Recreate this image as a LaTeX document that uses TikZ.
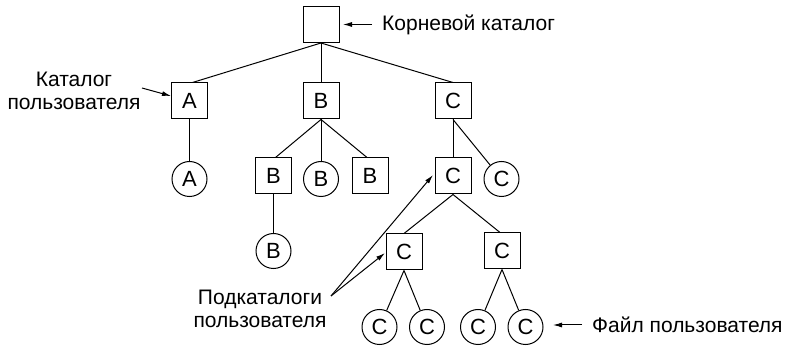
\documentclass[tikz,border=0pt]{standalone}
\usepackage{fontspec}
\setmainfont{Liberation Sans}
\usetikzlibrary{arrows.meta}
\begin{document}
\begin{tikzpicture}[x=1pt,y=-1pt,
  every node/.style={font=\fontsize{21}{23}\selectfont},
  dir/.style={draw,line width=1pt,minimum size=36pt,inner sep=0pt,font=\fontsize{22}{24}\selectfont},
  fil/.style={draw,line width=1pt,circle,minimum size=35pt,inner sep=0pt,font=\fontsize{22}{24}\selectfont},
  edge/.style={line width=1pt},
  arr/.style={line width=1pt,-{Latex[length=9pt,width=5pt]}},
  lbl/.style={inner sep=0pt,align=center}]
\useasboundingbox (0,0) rectangle (785,347);
% directories and files
\node[dir] (root) at (321,24.5) {};
\node[dir] (A) at (189.5,101) {A};
\node[dir] (B) at (321,101) {B};
\node[dir] (C) at (453,101) {C};
\node[fil] (cA) at (189.5,179) {A};
\node[dir] (B2) at (273.5,176) {B};
\node[fil] (cB) at (321,179) {B};
\node[dir] (B3) at (370,176) {B};
\node[dir] (C2) at (453,176) {C};
\node[fil] (cC) at (501.5,179) {C};
\node[fil] (cB2) at (273.5,251) {B};
\node[dir] (C3) at (404,252) {C};
\node[dir] (C4) at (502,251) {C};
\node[fil] (c1) at (379.5,327) {C};
\node[fil] (c2) at (427,327) {C};
\node[fil] (c3) at (478,327) {C};
\node[fil] (c4) at (525.5,327) {C};
% tree edges
\draw[edge] (root.south) -- ([xshift=3pt]A.north);
\draw[edge] (root.south) -- (B.north);
\draw[edge] (root.south) -- (C.north);
\draw[edge] (A.south) -- (cA);
\draw[edge] (B.south) -- ([xshift=2pt]B2.north);
\draw[edge] (B.south) -- (cB);
\draw[edge] (B.south) -- ([xshift=-3pt]B3.north);
\draw[edge] (C.south) -- (C2.north);
\draw[edge] (C.south) -- (cC);
\draw[edge] (B2.south) -- (cB2);
\draw[edge] (C2.south) -- (C3.north);
\draw[edge] (C2.south) -- ([xshift=-2pt]C4.north);
\draw[edge] (C3.south) -- (c1);
\draw[edge] (C3.south) -- (c2);
\draw[edge] (C4.south) -- (c3);
\draw[edge] (C4.south) -- (c4);
% labels
\node[lbl,anchor=west] (rootlbl) at (382,25) {Корневой каталог};
\node[lbl] (katlbl) at (74,91) {Каталог\\пользователя};
\node[lbl] (podlbl) at (260,309) {Подкаталоги\\пользователя};
\node[lbl,anchor=west] (fillbl) at (592,325) {Файл пользователя};
% label arrows
\coordinate (rs) at (372,24.5);
\coordinate (rt) at (343,24.5);
\draw[arr] (rs) -- (rt);
\coordinate (ks) at (142,88);
\coordinate (kt) at (171,96);
\draw[arr] (ks) -- (kt);
\coordinate (ps) at (331,296);
\coordinate (pt1) at (385,253);
\coordinate (pt2) at (433,175);
\draw[arr] (ps) -- (pt1);
\draw[arr] (ps) -- (pt2);
\coordinate (fs) at (582,325);
\coordinate (ft) at (553,325);
\draw[arr] (fs) -- (ft);
\end{tikzpicture}
\end{document}
